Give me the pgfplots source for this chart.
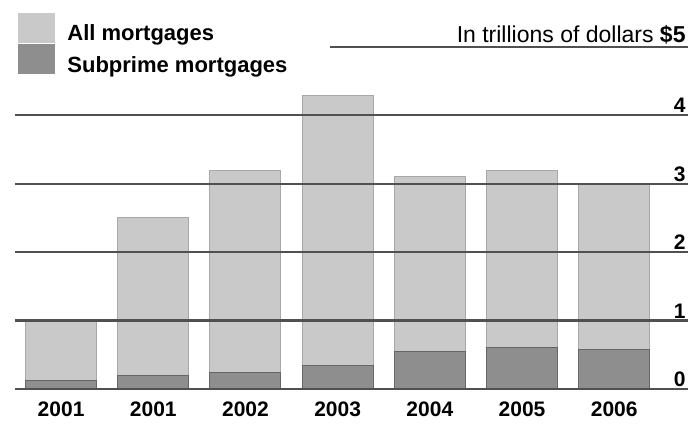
\documentclass[border=0pt]{standalone}
\usepackage{pgfplots}
\pgfplotsset{compat=1.18}
\usepackage{fontspec}
\setmainfont{Liberation Sans}
\definecolor{allc}{HTML}{C9C9C9}
\definecolor{alle}{HTML}{A8A8A8}
\definecolor{subc}{HTML}{8E8E8E}
\definecolor{sube}{HTML}{666666}
\definecolor{gridc}{HTML}{505050}
\begin{document}
\begin{tikzpicture}
\begin{axis}[
  scale only axis, width=336.5pt, height=171pt,
  xmin=-0.5, xmax=6.8, ymin=0, ymax=5,
  axis line style={draw=none},
  major tick length=0pt,
  xtick={0,...,6},
  xticklabels={2001,2001,2002,2003,2004,2005,2006},
  xticklabel style={font=\fontsize{10.5}{12}\selectfont\bfseries, yshift=-3pt},
  ytick={0,...,4},
  yticklabel pos=right,
  yticklabel style={anchor=south east, inner sep=1pt, font=\fontsize{10.5}{12}\selectfont\bfseries},
  /pgf/number format/assume math mode=true,
  ymajorgrids, grid style={gridc, line width=1.1pt},
  axis on top,
  ybar, bar shift=0pt, bar width=0.77,
  legend style={at={(0.0045,1.102)}, anchor=north west, draw=none, fill=none,
    inner sep=0pt, row sep=0pt, font=\fontsize{11}{12}\selectfont\bfseries,
    nodes={inner ysep=0pt}},
  legend cell align=left,
  legend image code/.code={\fill[#1,draw=none] (0pt,-4pt) rectangle (18.5pt,11pt);
    \path[draw=none,fill=none] (0pt,0pt) rectangle (22.5pt,0.1pt);},
  clip=false,
]
\addplot[fill=allc, draw=alle, line width=0.5pt] coordinates {
  (0,1.01) (1,2.51) (2,3.20) (3,4.29) (4,3.10) (5,3.19) (6,2.99)};
\addlegendentry{All mortgages}
\addplot[fill=subc, draw=sube, line width=0.5pt] coordinates {
  (0,0.12) (1,0.19) (2,0.24) (3,0.35) (4,0.55) (5,0.61) (6,0.57)};
\addlegendentry{Subprime mortgages}
\draw[gridc, line width=1.1pt] (axis cs:2.92,5) -- (axis cs:6.8,5);
\node[anchor=south east, inner sep=1pt, font=\fontsize{11.5}{12}\selectfont]
  at (axis cs:6.8,5) {In trillions of dollars \textbf{\$5}};
\path[use as bounding box] (rel axis cs:-0.0223,-0.117) rectangle (rel axis cs:1.003,1.1374);
\end{axis}
\end{tikzpicture}
\end{document}
